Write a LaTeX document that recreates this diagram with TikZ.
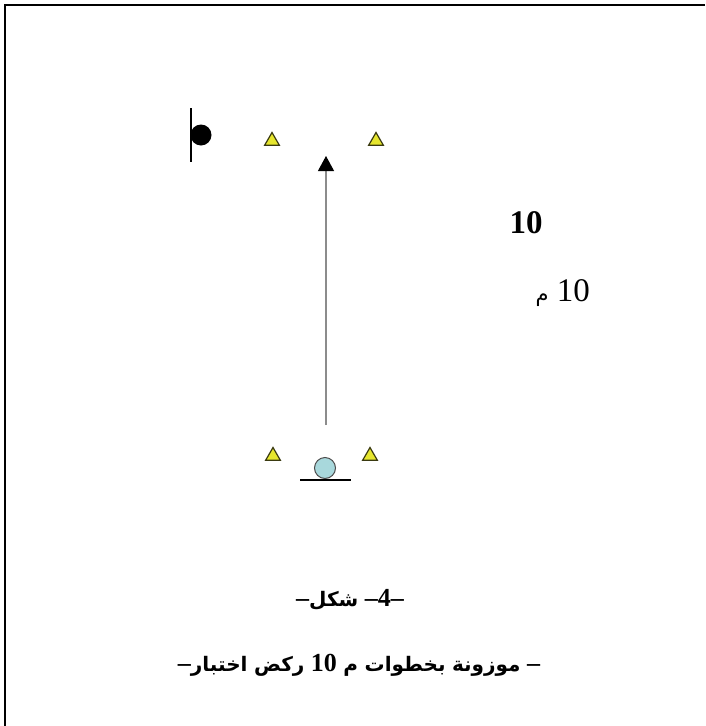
\documentclass[tikz,border=0pt]{standalone}
\usepackage{fontspec}
\setmainfont{Liberation Serif}
\newfontfamily\arfont[Script=Arabic]{DejaVu Sans}
\TeXXeTstate=1
\definecolor{conefill}{HTML}{E6E62E}
\definecolor{coneedge}{HTML}{3A3A10}
\definecolor{ballfill}{HTML}{A8D8DC}
\usetikzlibrary{arrows.meta,positioning,shapes.geometric}
\newcommand{\ar}[1]{{\arfont\beginR #1\endR}}
\begin{document}
\begin{tikzpicture}[x=1pt,y=-1pt,
  cone/.style={regular polygon, regular polygon sides=3, inner sep=0pt, minimum size=17pt, fill=conefill, draw=coneedge, line width=1.2pt},
  lbl/.style={inner sep=0pt, font=\fontsize{33}{38}\selectfont},
  captext/.style={inner sep=0pt, font=\fontsize{26}{30}\selectfont\bfseries}]
\useasboundingbox (0,0) rectangle (705,726);
\draw[line width=2.2pt] (5,726) -- (5,5) -- (705,5);
% finish side
\node[cone] (c1) at (272,141) {};
\node[cone] (c2) at (376,141) {};
\draw[line width=2pt] (190.5,108) -- (190.5,162);
\fill (201,135) circle (10.5);
% start side
\node[cone] (c3) at (273,456) {};
\node[cone] (c4) at (370,456) {};
\node[circle, draw=black!70, fill=ballfill, line width=1pt, minimum size=21pt, inner sep=0pt] (ball) at (325,468) {};
\draw[line width=1.8pt] (300,480) -- (351,480);
% run
\coordinate (runstart) at (326,425);
\coordinate (runend) at (326,156);
\draw[black!45, line width=1.1pt, -{Triangle[black, width=16pt, length=15pt]}] (runstart) -- (runend);
% labels
\node[lbl, font=\fontsize{33}{38}\selectfont\bfseries] (dist) at (526,223) {10};
\node[lbl, anchor=east] (unit) at (590,293) {\ar{\fontsize{21}{26}\selectfont م} 10};
\node[captext] (fig) at (350,600) {–\ar{\fontsize{20}{26}\selectfont\bfseries شكل} –4–};
\node[captext] (title) at (359,665) {–\ar{\fontsize{20}{26}\selectfont\bfseries اختبار} \ar{\fontsize{20}{26}\selectfont\bfseries ركض} 10 \ar{\fontsize{20}{26}\selectfont\bfseries م} \ar{\fontsize{20}{26}\selectfont\bfseries بخطوات} \ar{\fontsize{20}{26}\selectfont\bfseries موزونة} –};
\end{tikzpicture}
\end{document}
